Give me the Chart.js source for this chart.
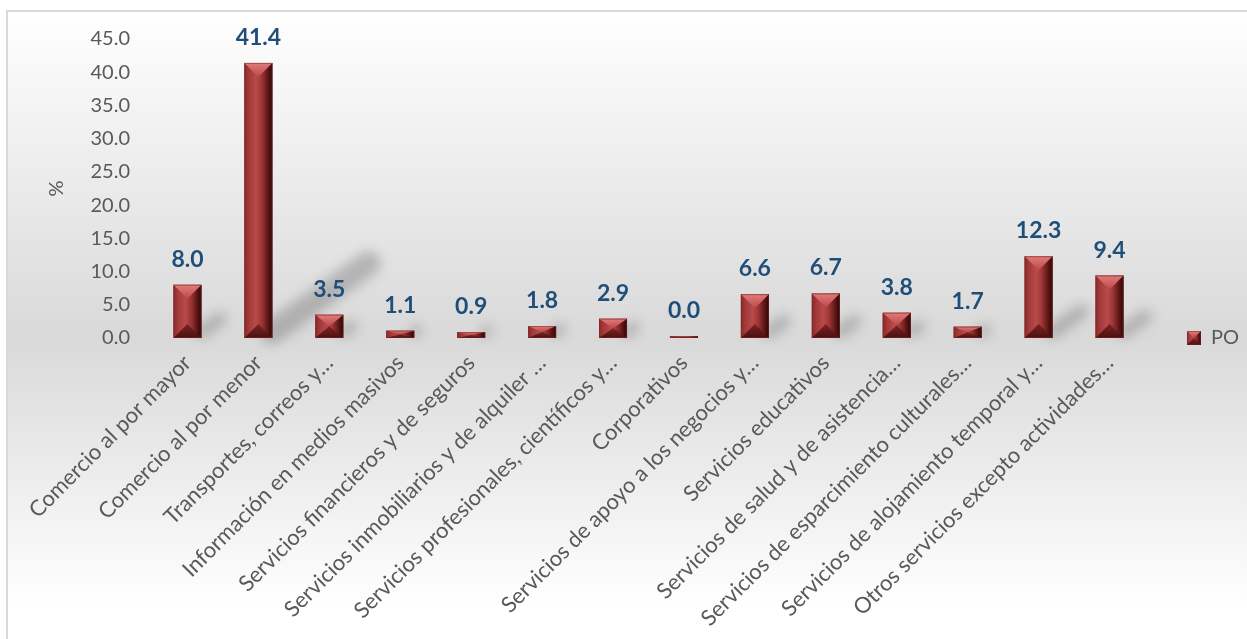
<!DOCTYPE html>
<html lang="es">
<head>
<meta charset="utf-8">
<title>PO por sector</title>
<script src="https://cdn.jsdelivr.net/npm/chart.js@4"></script>
<style>
  html, body { margin: 0; padding: 0; background: #ffffff; }
  #wrap { position: relative; width: 1247px; height: 639px; }
</style>
</head>
<body>
<div id="wrap"><canvas id="poChart"></canvas></div>
<script>
const sectores = [
    "Comercio al por mayor",
    "Comercio al por menor",
    "Transportes, correos y…",
    "Información en medios masivos",
    "Servicios financieros y de seguros",
    "Servicios inmobiliarios y de alquiler …",
    "Servicios profesionales, científicos y…",
    "Corporativos",
    "Servicios de apoyo a los negocios y…",
    "Servicios educativos",
    "Servicios de salud y de asistencia…",
    "Servicios de esparcimiento culturales…",
    "Servicios de alojamiento temporal y…",
    "Otros servicios excepto actividades…"
];
const po = [8.0, 41.4, 3.5, 1.1, 0.9, 1.8, 2.9, 0.0, 6.6, 6.7, 3.8, 1.7, 12.3, 9.4];
const serie = "PO";
const ejeY = "%";

const FONT = "Lato, 'Open Sans', sans-serif";
const GRIS = "#595959";
const AZUL = "#1f4e79";

// paint a bevelled bar (light top facet, dark bottom facet, shaded sides)
function bevel(ctx, left, top, w, h) {
    if (h <= 0 || w <= 0) return;
    const right = left + w, bottom = top + h, cx = left + w / 2;
    const d = Math.min(w / 2, h / 2);

    const side = ctx.createLinearGradient(left, 0, right, 0);
    side.addColorStop(0, "#8a2a2a");
    side.addColorStop(0.18, "#a63b3b");
    side.addColorStop(0.42, "#b84a4a");
    side.addColorStop(0.6, "#a23838");
    side.addColorStop(0.85, "#5a1414");
    side.addColorStop(1, "#2a0606");
    ctx.fillStyle = side;
    ctx.fillRect(left, top, w, h);

    const topG = ctx.createLinearGradient(0, top, 0, top + d);
    topG.addColorStop(0, "#e27b7b");
    topG.addColorStop(1, "#bb4949");
    ctx.fillStyle = topG;
    ctx.beginPath();
    ctx.moveTo(left, top);
    ctx.lineTo(right, top);
    ctx.lineTo(cx, top + d);
    ctx.closePath();
    ctx.fill();

    const botG = ctx.createLinearGradient(0, bottom - d, 0, bottom);
    botG.addColorStop(0, "#7a2424");
    botG.addColorStop(1, "#4c1010");
    ctx.fillStyle = botG;
    ctx.beginPath();
    ctx.moveTo(left, bottom);
    ctx.lineTo(right, bottom);
    ctx.lineTo(cx, bottom - d);
    ctx.closePath();
    ctx.fill();

    ctx.strokeStyle = "rgba(120,40,40,0.55)";
    ctx.lineWidth = 1;
    ctx.strokeRect(left + 0.5, top + 0.5, w - 1, Math.max(h - 1, 0));
}

const fondo = {
    id: "fondo",
    beforeDraw(chart) {
        const { ctx, width, height } = chart;
        ctx.save();
        const g = ctx.createLinearGradient(0, 10, 0, height);
        g.addColorStop(0, "#ffffff");
        g.addColorStop(0.52, "#d9d9d9");
        g.addColorStop(0.95, "#ffffff");
        g.addColorStop(1, "#ffffff");
        ctx.fillStyle = g;
        ctx.fillRect(6, 10, width - 6, height - 10);
        ctx.strokeStyle = "#d9d9d9";
        ctx.lineWidth = 2;
        ctx.beginPath();
        ctx.moveTo(7, height);
        ctx.lineTo(7, 11);
        ctx.lineTo(width, 11);
        ctx.stroke();
        ctx.restore();
    }
};

const barras3d = {
    id: "barras3d",
    beforeDatasetsDraw(chart) {
        const { ctx } = chart;
        const meta = chart.getDatasetMeta(0);
        ctx.save();
        ctx.filter = "blur(6px)";
        ctx.lineCap = "round";
        meta.data.forEach((bar) => {
            const h = bar.base - bar.y;
            if (h < 3) return;
            const x0 = bar.x + bar.width / 2;
            const y0 = bar.base - 6;
            const dx = h * 0.35;
            const dy = h * 0.25;
            ctx.strokeStyle = "rgba(0,0,0,0.2)";
            ctx.lineWidth = Math.min(10 + h * 0.05, 24);
            ctx.beginPath();
            ctx.moveTo(x0, y0);
            ctx.lineTo(x0 + dx, y0 - dy);
            ctx.stroke();
        });
        ctx.restore();
    },
    afterDatasetsDraw(chart) {
        const { ctx } = chart;
        const meta = chart.getDatasetMeta(0);
        const valores = chart.data.datasets[0].data;
        ctx.save();
        meta.data.forEach((bar, i) => {
            const { x, y, base, width } = bar.getProps(["x", "y", "base", "width"], true);
            bevel(ctx, x - width / 2, Math.min(y, base), width, Math.abs(base - y));
            ctx.fillStyle = AZUL;
            ctx.font = "bold 23px " + FONT;
            ctx.textAlign = "center";
            ctx.textBaseline = "alphabetic";
            ctx.fillText(valores[i].toFixed(1), x, Math.min(y, base) - 18);
        });
        ctx.restore();
    },
    afterDraw(chart) {
        const lg = chart.legend;
        if (!lg || !lg.legendHitBoxes.length) return;
        const hb = lg.legendHitBoxes[0];
        const s = 14;
        bevel(chart.ctx, hb.left, hb.top + (hb.height - s) / 2, s, s);
    }
};

new Chart(document.getElementById("poChart"), {
    type: "bar",
    data: {
        labels: sectores,
        datasets: [
            {
                label: serie,
                data: po,
                backgroundColor: "#a33a3a",
                borderWidth: 0,
                minBarLength: 2,
                categoryPercentage: 1,
                barPercentage: 0.395
            }
        ]
    },
    options: {
        responsive: true,
        maintainAspectRatio: false,
        animation: false,
        layout: {
            padding: { top: 39, left: 41, right: 0, bottom: 2 }
        },
        plugins: {
            legend: {
                position: "right",
                maxWidth: 102,
                labels: {
                    boxWidth: 14,
                    boxHeight: 14,
                    padding: 42,
                    color: GRIS,
                    font: { family: FONT, size: 20 }
                }
            },
            tooltip: { enabled: false }
        },
        scales: {
            x: {
                grid: { display: false, drawTicks: false },
                border: { display: false },
                ticks: {
                    color: GRIS,
                    font: { family: FONT, size: 22 },
                    minRotation: 45,
                    maxRotation: 45,
                    autoSkip: false,
                    padding: 12
                },
                afterFit: (scale) => { scale.height = 299; }
            },
            y: {
                min: 0,
                max: 45,
                grid: { display: false, drawTicks: false },
                border: { display: false },
                ticks: {
                    stepSize: 5,
                    color: GRIS,
                    padding: 22,
                    font: { family: FONT, size: 20 },
                    callback: (v) => v.toFixed(1)
                },
                title: {
                    display: true,
                    text: ejeY,
                    color: GRIS,
                    font: { family: FONT, size: 20 }
                },
                afterFit: (scale) => { scale.width = 111; }
            }
        }
    },
    plugins: [fondo, barras3d]
});
</script>
</body>
</html>
